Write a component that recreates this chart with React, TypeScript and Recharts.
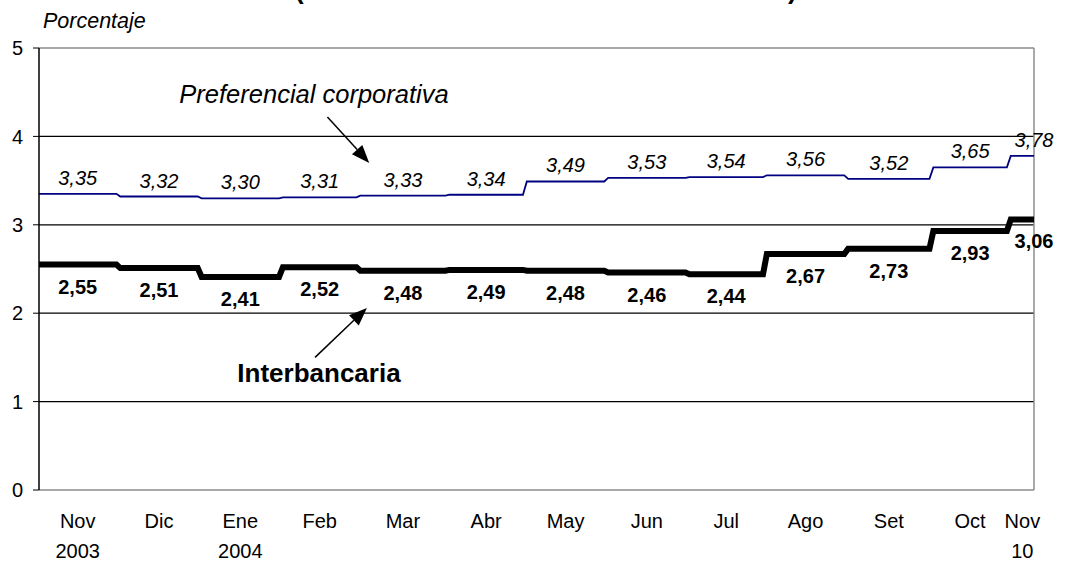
import React from 'react';
import { LineChart, Line, XAxis, YAxis, ReferenceLine, LabelList, Customized } from 'recharts';

// monthly averages, daily line drawn as steps
const months = ['Nov', 'Dic', 'Ene', 'Feb', 'Mar', 'Abr', 'May', 'Jun', 'Jul', 'Ago', 'Set', 'Oct', 'Nov'];
const years = ['2003', '', '2004', '', '', '', '', '', '', '', '', '', '10'];
const businessDays = [21, 21, 21, 20, 23, 20, 21, 21, 20, 21, 22, 20, 7];
const preferencial = [3.35, 3.32, 3.3, 3.31, 3.33, 3.34, 3.49, 3.53, 3.54, 3.56, 3.52, 3.65, 3.78];
const interbancaria = [2.55, 2.51, 2.41, 2.52, 2.48, 2.49, 2.48, 2.46, 2.44, 2.67, 2.73, 2.93, 3.06];
const yTicks = [0, 1, 2, 3, 4, 5];
const gridValues = [1, 2, 3, 4];

const FONT = "'Liberation Sans', Arial, sans-serif";

const data: any[] = [];
const monthMid: number[] = [];
let cursor = 0;
months.forEach((_, i) => {
  const start = cursor;
  const end = cursor + businessDays[i] - 1;
  const mid = (start + end) / 2;
  const last = i === months.length - 1;
  monthMid.push(mid);
  const p = preferencial[i];
  const r = interbancaria[i];
  data.push({ d: start, p, r });
  if (!last) data.push({ d: mid, p, r, pLab: p, rLab: r });
  data.push(last ? { d: end, p, r, pLab: p, rLab: r } : { d: end, p, r });
  cursor = end + 1;
});
const lastDay = cursor - 1;

const fmt = (v: number) => v.toFixed(2).replace('.', ',');

const PrefLabel = (props: any) => {
  const { x, y, value } = props;
  if (value == null) return null;
  return (
    <text x={x} y={y - 9} textAnchor="middle" fontFamily={FONT} fontSize={20} fontStyle="italic" fill="#000">
      {fmt(value)}
    </text>
  );
};

const InterLabel = (props: any) => {
  const { x, y, value } = props;
  if (value == null) return null;
  return (
    <text x={x} y={y + 29} textAnchor="middle" fontFamily={FONT} fontSize={20} fontWeight="bold" fill="#000">
      {fmt(value)}
    </text>
  );
};

const MonthTick = (props: any) => {
  const { x, y, payload } = props;
  const i = monthMid.findIndex((m) => Math.abs(m - payload.value) < 0.01);
  return (
    <g fontFamily={FONT} fontSize={20} fill="#000">
      <text x={x} y={y + 38} textAnchor="middle" fill="#000">{months[i]}</text>
      {years[i] && <text x={x} y={y + 68} textAnchor="middle" fill="#000">{years[i]}</text>}
    </g>
  );
};

const Arrow = (props: any) => {
  const { x1, y1, x2, y2 } = props;
  const a = Math.atan2(y2 - y1, x2 - x1);
  const len = 18;
  const w = 7;
  const bx = x2 - len * Math.cos(a);
  const by = y2 - len * Math.sin(a);
  const px = -Math.sin(a) * w;
  const py = Math.cos(a) * w;
  return (
    <g>
      <line x1={x1} y1={y1} x2={bx} y2={by} stroke="#000" strokeWidth={1.5} />
      <polygon points={`${x2},${y2} ${bx + px},${by + py} ${bx - px},${by - py}`} fill="#000" />
    </g>
  );
};

const Notes = () => (
  <g fontFamily={FONT} fill="#000">
    <text x={295} y={-1} fontSize={26} fontWeight="bold">(</text>
    <text x={788} y={-1} fontSize={26} fontWeight="bold">)</text>
    <text x={43} y={28} fontSize={21.5} fontStyle="italic">Porcentaje</text>
    <text x={314} y={103} fontSize={25.5} fontStyle="italic" textAnchor="middle">Preferencial corporativa</text>
    <text x={319} y={382} fontSize={26} fontWeight="bold" textAnchor="middle">Interbancaria</text>
  </g>
);

export default function App() {
  return (
    <div style={{ position: 'absolute', left: 0, top: 0, background: '#fff' }}>
      <LineChart width={1068} height={561} data={data} margin={{ top: 48, right: 34, bottom: 0, left: 0 }}>
        <XAxis
          dataKey="d"
          type="number"
          domain={[0, lastDay]}
          ticks={monthMid}
          interval={0}
          tick={<MonthTick />}
          tickLine={false}
          tickSize={0}
          tickMargin={0}
          height={71}
          axisLine={{ stroke: '#8c8c8c', strokeWidth: 1.5 }}
        />
        <YAxis
          domain={[0, 5]}
          ticks={yTicks}
          width={39}
          interval={0}
          tick={{ fontFamily: FONT, fontSize: 20, fill: '#000' }}
          tickLine={{ stroke: '#000' }}
          tickSize={6}
          tickMargin={10}
          axisLine={{ stroke: '#000', strokeWidth: 1.5 }}
        />
        {gridValues.map((g) => (
          <ReferenceLine key={g} y={g} stroke="#000" strokeWidth={1.2} />
        ))}
        <ReferenceLine y={5} stroke="#8c8c8c" strokeWidth={1.5} />
        <ReferenceLine x={lastDay} stroke="#8c8c8c" strokeWidth={1.5} />
        <ReferenceLine
          segment={[{ x: 74.5, y: 4.22 }, { x: 85.3, y: 3.7 }]}
          shape={<Arrow />}
          ifOverflow="visible"
        />
        <ReferenceLine
          segment={[{ x: 71.3, y: 1.5 }, { x: 84.7, y: 2.06 }]}
          shape={<Arrow />}
          ifOverflow="visible"
        />
        <Line
          type="linear"
          dataKey="p"
          stroke="#000080"
          strokeWidth={1.8}
          dot={false}
          isAnimationActive={false}
        >
          <LabelList dataKey="pLab" content={<PrefLabel />} />
        </Line>
        <Line
          type="linear"
          dataKey="r"
          stroke="#000"
          strokeWidth={6}
          dot={false}
          isAnimationActive={false}
        >
          <LabelList dataKey="rLab" content={<InterLabel />} />
        </Line>
        <Customized component={Notes} />
      </LineChart>
    </div>
  );
}
